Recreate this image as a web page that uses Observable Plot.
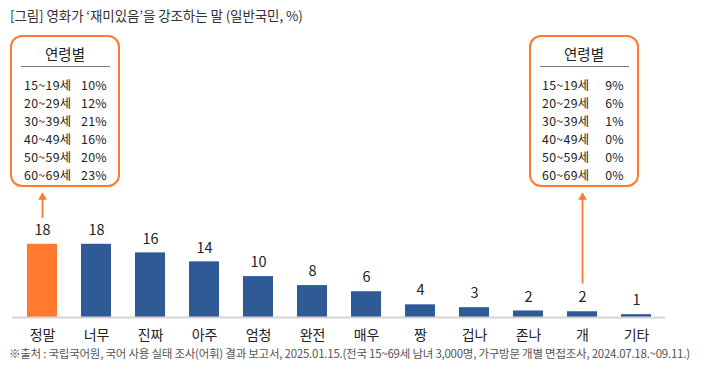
<!DOCTYPE html>
<html>
<head>
<meta charset="utf-8">
<script src="https://cdn.jsdelivr.net/npm/d3@7"></script>
<script src="https://cdn.jsdelivr.net/npm/@observablehq/plot@0.6"></script>
<style>
  html, body { margin: 0; padding: 0; background: #fff; }
  body { font-family: "Noto Sans CJK KR", "Noto Sans", sans-serif; }
  #wrap { position: relative; width: 708px; height: 377px; overflow: hidden; }
  #title { position: absolute; left: 10px; top: 5px; font-size: 13.5px; color: #333; letter-spacing: -0.1px; white-space: nowrap; }
  #chart { position: absolute; left: 0; top: 28px; }
  #caption { position: absolute; left: 9px; top: 345px; font-size: 11.5px; color: #555; letter-spacing: -0.25px; white-space: nowrap; }
  .box { position: absolute; width: 106px; height: 148px; border: 2px solid #FF7A2F; border-radius: 12px; background: #fff; }
  .box .hd { position: absolute; left: 0; right: 0; top: 6px; text-align: center; font-size: 14.5px; color: #222; }
  .box .rule { position: absolute; left: 9px; right: 8px; top: 29px; height: 0; border-top: 1.5px solid #777; }
  .box .row { position: absolute; font-size: 12.3px; color: #222; white-space: nowrap; line-height: 15px; height: 15px; letter-spacing: 0.35px; }
</style>
</head>
<body>
<div id="wrap">
  <div id="title">[그림] 영화가 ‘재미있음’을 강조하는 말 (일반국민, %)</div>
  <div id="chart"></div>
  <div id="caption">※출처 : 국립국어원, 국어 사용 실태 조사(어휘) 결과 보고서, 2025.01.15.(전국 15~69세 남녀 3,000명, 가구방문 개별 면접조사, 2024.07.18.~09.11.)</div>
</div>
<script>
// Categories and values
const categories = ["정말", "너무", "진짜", "아주", "엄청", "완전", "매우", "짱", "겁나", "존나", "개", "기타"];
const values = [17.9, 17.9, 15.8, 13.6, 10.0, 7.8, 6.3, 3.1, 2.4, 1.6, 1.4, 0.7];
const valueLabels = ["18", "18", "16", "14", "10", "8", "6", "4", "3", "2", "2", "1"];
const highlight = "정말";

// Age breakdown boxes
const ageGroups = ["15~19세", "20~29세", "30~39세", "40~49세", "50~59세", "60~69세"];
const jeongmalByAge = ["10%", "12%", "21%", "16%", "20%", "23%"];
const gaeByAge = ["9%", "6%", "1%", "0%", "0%", "0%"];
const boxTitle = "연령별";

const ORANGE = "#FF7A2F";
const BLUE = "#2E5A96";

const data = categories.map((c, i) => ({cat: c, value: values[i], label: valueLabels[i]}));
const arrows = [
  {cat: "정말", y1: 24.4, y2: 29.4},
  {cat: "개", y1: 8.3, y2: 29.4}
];

const plot = Plot.plot({
  width: 708,
  height: 319,
  marginLeft: 12,
  marginRight: 43,
  marginTop: 0,
  marginBottom: 30,
  style: {fontFamily: "'Noto Sans CJK KR', sans-serif", background: "transparent", overflow: "visible"},
  x: {type: "band", domain: categories, paddingInner: 0.45, paddingOuter: 0.225, axis: null},
  y: {domain: [0, 70.66], axis: null},
  marks: [
    Plot.barY(data, {x: "cat", y: "value", fill: d => d.cat === highlight ? ORANGE : BLUE}),
    Plot.ruleY([0], {stroke: "#d4d4d4", strokeWidth: 2}),
    Plot.text(data, {x: "cat", y: "value", text: "label", dy: -14, fontSize: 14.5, fill: "#222"}),
    Plot.text(data, {x: "cat", y: 0, text: "cat", dy: 18, fontSize: 14, fill: "#222"}),
    Plot.link(arrows, {x1: "cat", x2: "cat", y1: "y1", y2: "y2", stroke: ORANGE, strokeWidth: 1.8}),
    Plot.dot(arrows, {x: "cat", y: "y2", symbol: "triangle", r: 3.2, fill: ORANGE, stroke: "none"})
  ]
});
document.getElementById("chart").appendChild(plot);

function makeBox(left, pcts, rowLeft, rowRight) {
  const box = document.createElement("div");
  box.className = "box";
  box.style.left = left + "px";
  box.style.top = "35px";
  let html = `<div class="hd">${boxTitle}</div><div class="rule"></div>`;
  ageGroups.forEach((g, i) => {
    const top = 40.5 + i * 18;
    html += `<div class="row" style="left:${rowLeft}px;top:${top}px">${g}</div>`;
    html += `<div class="row" style="right:${rowRight}px;top:${top}px">${pcts[i]}</div>`;
  });
  box.innerHTML = html;
  document.getElementById("wrap").appendChild(box);
}
makeBox(10, jeongmalByAge, 12, 11);
makeBox(529, gaeByAge, 11, 13);
</script>
</body>
</html>
